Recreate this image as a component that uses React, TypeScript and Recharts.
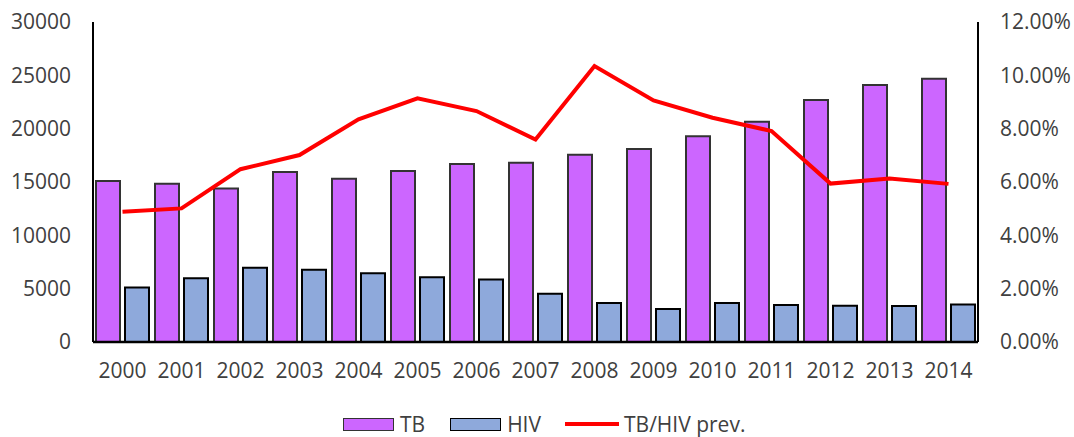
import { ComposedChart, Bar, Line, XAxis, YAxis, Legend } from 'recharts';

const years = ['2000', '2001', '2002', '2003', '2004', '2005', '2006', '2007', '2008', '2009', '2010', '2011', '2012', '2013', '2014'];
const tbCases = [15090, 14840, 14380, 15940, 15310, 16020, 16680, 16810, 17560, 18100, 19280, 20640, 22690, 24090, 24690];
const hivCases = [5120, 5970, 6970, 6780, 6440, 6070, 5850, 4530, 3660, 3090, 3650, 3470, 3410, 3380, 3520];
const prevalence = [0.0488, 0.0501, 0.0648, 0.0701, 0.0835, 0.0914, 0.0866, 0.0759, 0.1035, 0.0906, 0.0841, 0.0791, 0.0594, 0.0613, 0.0593];

const leftTicks = [0, 5000, 10000, 15000, 20000, 25000, 30000];
const rightTicks = [0, 0.02, 0.04, 0.06, 0.08, 0.1, 0.12];

const data = years.map((year, i) => ({
  year,
  tb: tbCases[i],
  hiv: hivCases[i],
  prev: prevalence[i],
}));

const FONT = '"Open Sans", sans-serif';
const TEXT = '#404040';

const tickStyle = { fill: TEXT, fontSize: 21, fontFamily: FONT };

const renderLegend = () => (
  <div
    style={{
      height: 30,
      display: 'flex',
      alignItems: 'center',
      paddingLeft: 343,
      paddingTop: 4,
      boxSizing: 'border-box',
      fontFamily: FONT,
      fontSize: 21,
      color: TEXT,
    }}
  >
    <span style={{ width: 49, height: 11, background: '#CC66FF', border: '1.5px solid #333' }} />
    <span style={{ marginLeft: 6, marginRight: 25 }}>TB</span>
    <span style={{ width: 49, height: 11, background: '#8EA9DB', border: '1.5px solid #000' }} />
    <span style={{ marginLeft: 6, marginRight: 24 }}>HIV</span>
    <span style={{ width: 54, height: 4, background: '#FF0000' }} />
    <span style={{ marginLeft: 5 }}>TB/HIV prev.</span>
  </div>
);

export default function App() {
  return (
    <div style={{ position: 'absolute', left: 0, top: 0, background: '#fff' }}>
      <ComposedChart
        width={1074}
        height={437}
        data={data}
        margin={{ top: 22, right: 0, bottom: 0, left: 0 }}
        barCategoryGap={3}
        barGap={5}
      >
        <XAxis
          dataKey="year"
          tickLine={false}
          tickSize={0}
          tickMargin={21}
          height={65}
          axisLine={{ stroke: '#000', strokeWidth: 2.5 }}
          tick={tickStyle}
        />
        <YAxis
          yAxisId="left"
          domain={[0, 30000]}
          ticks={leftTicks}
          width={93}
          tickLine={false}
          tickSize={0}
          tickMargin={22}
          axisLine={{ stroke: '#000', strokeWidth: 2 }}
          tick={tickStyle}
        />
        <YAxis
          yAxisId="right"
          orientation="right"
          domain={[0, 0.12]}
          ticks={rightTicks}
          width={96}
          tickLine={false}
          tickSize={0}
          tickMargin={22}
          axisLine={{ stroke: '#000', strokeWidth: 2 }}
          tick={{ ...tickStyle, textAnchor: 'start' }}
          tickFormatter={(v: number) => (v * 100).toFixed(2) + '%'}
        />
        <Legend verticalAlign="bottom" content={renderLegend} wrapperStyle={{ left: 0, width: 1074 }} />
        <Bar yAxisId="left" dataKey="tb" name="TB" fill="#CC66FF" stroke="#333" strokeWidth={2} isAnimationActive={false} />
        <Bar yAxisId="left" dataKey="hiv" name="HIV" fill="#8EA9DB" stroke="#000" strokeWidth={2} isAnimationActive={false} />
        <Line
          yAxisId="right"
          type="linear"
          dataKey="prev"
          name="TB/HIV prev."
          stroke="#FF0000"
          strokeWidth={4}
          dot={false}
          isAnimationActive={false}
        />
      </ComposedChart>
    </div>
  );
}
